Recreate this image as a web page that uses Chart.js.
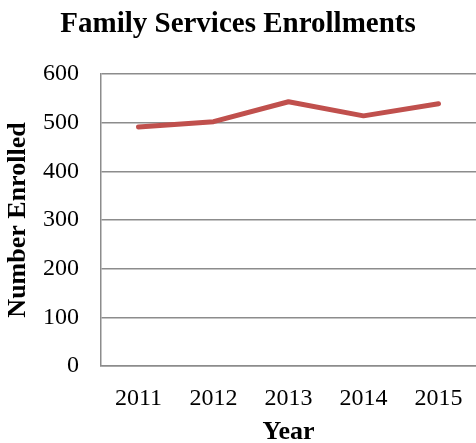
<!DOCTYPE html>
<html>
<head>
<meta charset="utf-8">
<script src="https://cdn.jsdelivr.net/npm/chart.js@4.4.1/dist/chart.umd.min.js"></script>
<style>
  html, body { margin: 0; padding: 0; background: #fff; }
  #wrap { width: 476px; height: 443px; }
</style>
</head>
<body>
<div id="wrap"><canvas id="chartEnroll"></canvas></div>
<script>
// datos
const years = ['2011', '2012', '2013', '2014', '2015'];
const enrolled = [491, 502, 543, 514, 539];
const yTicks = [0, 100, 200, 300, 400, 500, 600];

const serif = "'Liberation Serif', 'DejaVu Serif', serif";
const gridGray = '#8c8c8c';

const ctx = document.getElementById('chartEnroll');

new Chart(ctx, {
  type: 'line',
  data: {
    labels: years,
    datasets: [{
      label: 'Number Enrolled',
      data: enrolled,
      borderColor: '#c0504d',
      borderWidth: 5,
      borderCapStyle: 'round',
      borderJoinStyle: 'round',
      pointRadius: 0,
      tension: 0,
      fill: false
    }]
  },
  options: {
    responsive: true,
    maintainAspectRatio: false,
    animation: false,
    layout: { padding: 0 },
    plugins: {
      legend: { display: false },
      tooltip: { enabled: false },
      title: {
        display: true,
        text: 'Family Services Enrollments',
        color: '#000',
        font: { family: serif, size: 29, weight: 'bold', lineHeight: 1.2 },
        padding: { top: 7, bottom: 32.2 }
      }
    },
    scales: {
      x: {
        offset: true,
        // marcas ocultas, solo sirven para bajar las etiquetas
        grid: { display: false, drawTicks: true, tickLength: 8 },
        border: { display: true, color: gridGray, width: 1.5 },
        ticks: {
          color: '#000',
          padding: 10,
          font: { family: serif, size: 24 }
        },
        title: {
          display: true,
          text: 'Year',
          color: '#000',
          font: { family: serif, size: 26, weight: 'bold', lineHeight: 0.8 },
          padding: { top: 4, bottom: 0 }
        },
        afterFit: function (scale) { scale.height = 77; }
      },
      y: {
        min: 0,
        max: 600,
        afterBuildTicks: function (scale) {
          scale.ticks = yTicks.map(v => ({ value: v }));
        },
        grid: { color: gridGray, lineWidth: 1.5, drawTicks: false },
        border: { display: true, color: gridGray, width: 1.5 },
        ticks: {
          color: '#000',
          padding: 22,
          font: { family: serif, size: 24 }
        },
        title: {
          display: true,
          text: 'Number Enrolled',
          color: '#000',
          font: { family: serif, size: 26, weight: 'bold' },
          padding: { top: 3, bottom: 0 }
        },
        afterFit: function (scale) { scale.width = 101; }
      }
    }
  }
});
</script>
</body>
</html>
